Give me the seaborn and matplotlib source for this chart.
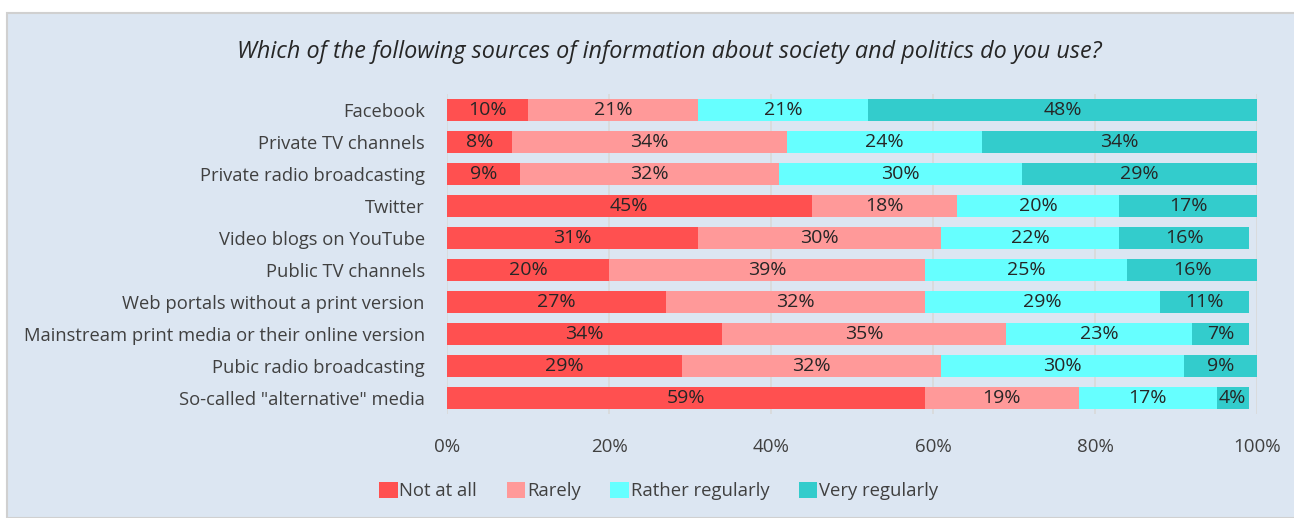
import numpy as np
import pandas as pd
import matplotlib.pyplot as plt
import seaborn as sns
from matplotlib.patches import Patch, Rectangle

# data (percent of respondents)
sources = ["Facebook", "Private TV channels", "Private radio broadcasting", "Twitter",
           "Video blogs on YouTube", "Public TV channels", "Web portals without a print version",
           "Mainstream print media or their online version", "Pubic radio broadcasting",
           "So-called \"alternative\" media"]
not_at_all = [10, 8, 9, 45, 31, 20, 27, 34, 29, 59]
rarely = [21, 34, 32, 18, 30, 39, 32, 35, 32, 19]
rather_regularly = [21, 24, 30, 20, 22, 25, 29, 23, 30, 17]
very_regularly = [48, 34, 29, 17, 16, 16, 11, 7, 9, 4]

levels = ["Not at all", "Rarely", "Rather regularly", "Very regularly"]
colors = ["#FF5050", "#FF9999", "#66FFFF", "#33CCCC"]
bg = "#DCE6F2"

df = pd.DataFrame({"source": sources, "Not at all": not_at_all, "Rarely": rarely,
                   "Rather regularly": rather_regularly, "Very regularly": very_regularly})
cum = df[levels].cumsum(axis=1)

sns.set_theme(style="white")
plt.rcParams["font.family"] = ["Open Sans", "DejaVu Sans"]

fig = plt.figure(figsize=(12.94, 5.18), dpi=100)
fig.patch.set_facecolor("white")
fig.patches.append(Rectangle((7 / 1294, 0), 1.0, 1 - 13 / 518, transform=fig.transFigure,
                             facecolor=bg, edgecolor="#D0D0D0", linewidth=1.5, zorder=-1))
ax = fig.add_axes([447 / 1294, 1 - 414 / 518, 810 / 1294, 320 / 518])
ax.set_facecolor(bg)

# stacked bars: draw the cumulative totals from the outermost segment inwards
for lvl, col in reversed(list(zip(levels, colors))):
    sns.barplot(x=cum[lvl], y=df["source"], orient="h", color=col, width=0.66,
                linewidth=0, saturation=1, ax=ax, zorder=2)

for i in range(len(sources)):
    left = 0
    for lvl in levels:
        v = df.loc[i, lvl]
        ax.text(left + v / 2, i, f"{v}%", ha="center", va="center",
                fontsize=14, color="#262626", zorder=3)
        left += v

ax.set_xlim(0, 100)
ax.set_ylim(len(sources) - 0.5, -0.5)
ax.set_xticks(np.arange(0, 101, 20))
ax.set_xticklabels([f"{t}%" for t in range(0, 101, 20)])
ax.grid(axis="x", color="#D9D9D9", linewidth=1.2, zorder=0)
ax.set_axisbelow(True)
ax.set_xlabel("")
ax.set_ylabel("")
for s in ax.spines.values():
    s.set_visible(False)
ax.tick_params(axis="x", length=0, pad=17, labelsize=13.5, labelcolor="#404040")
ax.tick_params(axis="y", length=0, pad=16, labelsize=13.2, labelcolor="#404040")

fig.text(0.517, 1 - 52 / 518, "Which of the following sources of information about society and politics do you use?",
         ha="center", va="center", fontsize=16.8, style="italic", color="#262626")

handles = [Patch(facecolor=c, edgecolor="none", label=l) for l, c in zip(levels, colors)]
fig.legend(handles=handles, loc="center", bbox_to_anchor=(0.509, 1 - 491 / 518), ncol=4,
           frameon=False, fontsize=13.3, handlelength=1.0, handleheight=1.0,
           handletextpad=0.1, columnspacing=1.6, labelcolor="#404040")

fig.savefig("out.png", dpi=100, facecolor=fig.get_facecolor())
